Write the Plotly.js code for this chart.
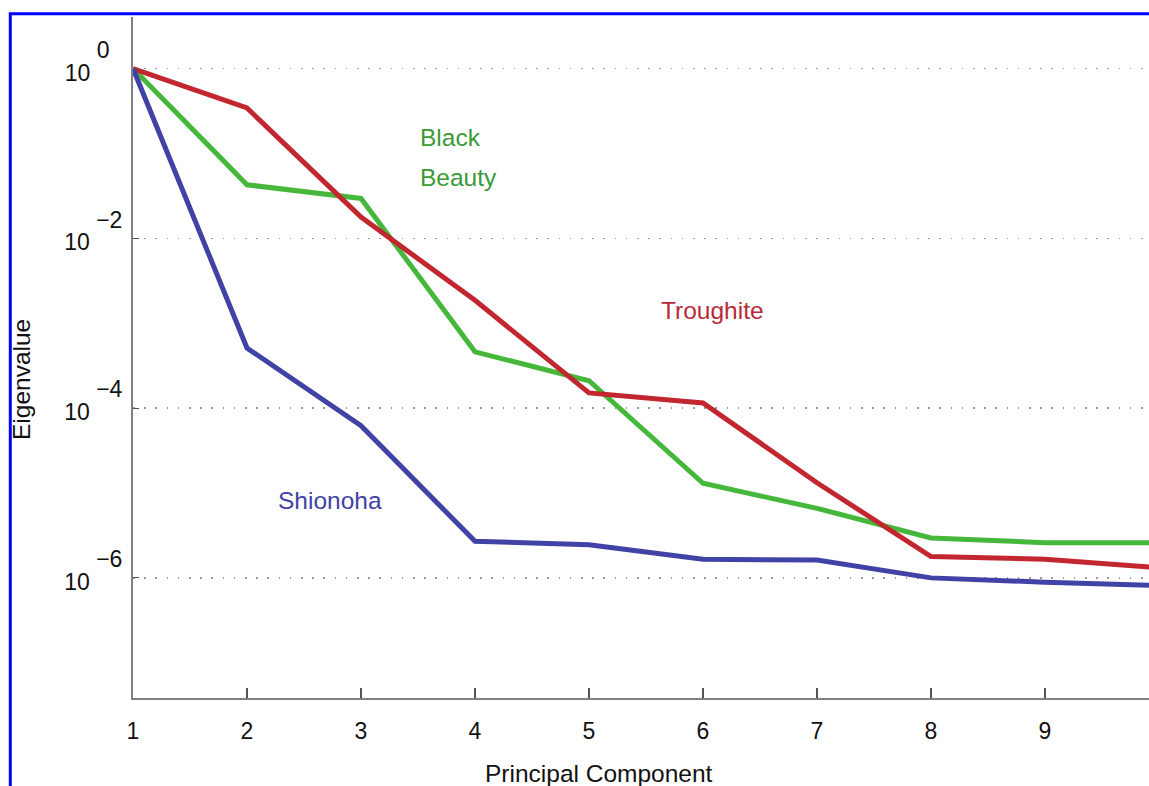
<!DOCTYPE html>
<html>
<head>
<meta charset="utf-8">
<script src="https://cdn.plot.ly/plotly-3.0.1.min.js"></script>
<style>
  html, body { margin: 0; padding: 0; background: #ffffff; overflow: hidden; }
  #chart { width: 1149px; height: 786px; }
</style>
</head>
<body>
<div id="chart"></div>
<script>
// Principal component index
const components = [1, 2, 3, 4, 5, 6, 7, 8, 9, 10];

// Eigenvalues (log scale)
const troughite   = [1, 0.343, 0.0178, 1.86e-3, 1.51e-4, 1.15e-4, 1.32e-5, 1.78e-6, 1.66e-6, 1.32e-6];
const blackBeauty = [1, 0.0427, 0.0295, 4.6e-4, 2.1e-4, 1.3e-5, 6.6e-6, 2.95e-6, 2.6e-6, 2.6e-6];
const shionoha    = [1, 5.1e-4, 6.2e-5, 2.7e-6, 2.45e-6, 1.66e-6, 1.62e-6, 1.0e-6, 8.9e-7, 8.1e-7];

// Tick labels
const xTickVals = [1, 2, 3, 4, 5, 6, 7, 8, 9];
const xTickText = ["1", "2", "3", "4", "5", "6", "7", "8", "9"];
const yTickVals = [1, 1e-2, 1e-4, 1e-6];
const yExponents = ["0\u2007", "\u22122", "\u22124", "\u22126"];
const yTickText = yExponents.map(e =>
  "10\u00a0<span style='font-size:32px'><sup><sup><span style='font-size:23px'>" + e +
  "</span></sup></sup></span>");

const FONT = "Liberation Sans, Arial, Helvetica, sans-serif";

const traces = [
  { x: components, y: blackBeauty, name: "Black Beauty", mode: "lines",
    line: { color: "#45b83c", width: 5 } },
  { x: components, y: troughite, name: "Troughite", mode: "lines",
    line: { color: "#c2262f", width: 5 } },
  { x: components, y: shionoha, name: "Shionoha", mode: "lines",
    line: { color: "#4142a6", width: 5 } }
];

const L = 133, R = 1149, T = 17, B = 698;
const W = 1149, H = 786;
const px2paperX = p => (p - L) / (R - L);
const px2paperY = p => (B - p) / (B - T);

const layout = {
  width: W, height: H,
  margin: { l: L, r: W - R, t: T, b: H - B, pad: 0 },
  paper_bgcolor: "#ffffff",
  plot_bgcolor: "#ffffff",
  showlegend: false,
  font: { family: FONT, size: 23, color: "#111111" },
  xaxis: {
    range: [1, 1 + (R - L) / 114],
    tickvals: xTickVals, ticktext: xTickText,
    ticks: "inside", ticklen: 10, tickwidth: 1.2, tickcolor: "#555555",
    showline: true, linecolor: "#808080", linewidth: 2,
    showgrid: false, zeroline: false,
    tickfont: { family: FONT, size: 23, color: "#111111" },
    ticklabelstandoff: 11,
    automargin: false
  },
  yaxis: {
    type: "log",
    range: [-7.415, 0.607],
    tickvals: yTickVals, ticktext: yTickText,
    ticks: "inside", ticklen: 6, tickwidth: 1.2, tickcolor: "#555555",
    showline: true, linecolor: "#808080", linewidth: 2,
    showgrid: true, gridcolor: "#9a9a9a", gridwidth: 1.6, griddash: "1.6px,9.6px",
    zeroline: false,
    tickfont: { family: FONT, size: 23, color: "#111111" },
    ticklabelstandoff: 4,
    ticklabelshift: 4,
    automargin: false
  },
  annotations: [
    { x: px2paperX(599), y: px2paperY(773), xref: "paper", yref: "paper",
      text: "Principal Component", showarrow: false, xanchor: "center", yanchor: "middle",
      font: { family: FONT, size: 24.5, color: "#111111" } },
    { x: px2paperX(22), y: px2paperY(380), xref: "paper", yref: "paper",
      text: "Eigenvalue", showarrow: false, textangle: -90, xanchor: "center", yanchor: "middle",
      font: { family: FONT, size: 24.5, color: "#111111" } },
    { x: 3.5, y: -0.807, xref: "x", yref: "y", text: "Black", showarrow: false,
      xanchor: "left", yanchor: "middle", font: { family: FONT, size: 24.5, color: "#3a9a38" } },
    { x: 3.5, y: -1.278, xref: "x", yref: "y", text: "Beauty", showarrow: false,
      xanchor: "left", yanchor: "middle", font: { family: FONT, size: 24.5, color: "#3a9a38" } },
    { x: 5.614, y: -2.856, xref: "x", yref: "y", text: "Troughite", showarrow: false,
      xanchor: "left", yanchor: "middle", font: { family: FONT, size: 24.5, color: "#b82a38" } },
    { x: 2.254, y: -5.094, xref: "x", yref: "y", text: "Shionoha", showarrow: false,
      xanchor: "left", yanchor: "middle", font: { family: FONT, size: 24.5, color: "#4142a6" } }
  ],
  shapes: [
    { type: "rect", xref: "paper", yref: "paper", layer: "above",
      x0: px2paperX(10.3), x1: px2paperX(1300),
      y0: px2paperY(900), y1: px2paperY(13.8),
      line: { color: "#0000ff", width: 3 }, fillcolor: "rgba(0,0,0,0)" }
  ]
};

Plotly.newPlot("chart", traces, layout, { displayModeBar: false, staticPlot: true });
</script>
</body>
</html>
